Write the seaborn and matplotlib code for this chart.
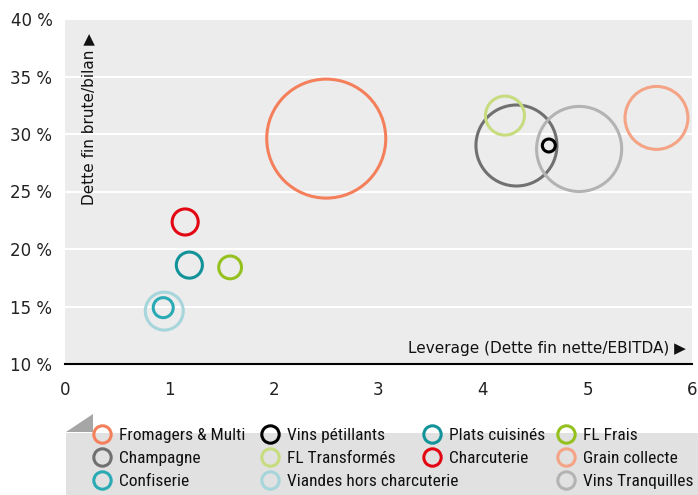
import numpy as np
import pandas as pd
import matplotlib
matplotlib.use("Agg")
import matplotlib.pyplot as plt
import matplotlib.font_manager as fm
from matplotlib.lines import Line2D
from matplotlib.patches import Polygon, Rectangle
import seaborn as sns

# ---------------- data ----------------
secteurs = ["Fromagers & Multi", "Grain collecte", "Champagne", "FL Transformés",
            "Vins pétillants", "Vins Tranquilles", "Charcuterie", "Plats cuisinés",
            "FL Frais", "Confiserie", "Viandes hors charcuterie"]
leverage = [2.50, 5.66, 4.32, 4.21, 4.63, 4.92, 1.15, 1.19, 1.58, 0.94, 0.95]
dette_bilan = [29.6, 31.4, 29.0, 31.6, 29.0, 28.7, 22.35, 18.6, 18.4, 14.9, 14.6]
taille = [354, 99, 164, 38, 4.2, 181, 17, 17, 13, 10, 36]

couleurs = {
    "Fromagers & Multi": "#f47f5b",
    "Grain collecte": "#f5a385",
    "Champagne": "#707070",
    "FL Transformés": "#c6dc7e",
    "Vins pétillants": "#000000",
    "Vins Tranquilles": "#b3b3b3",
    "Charcuterie": "#e30613",
    "Plats cuisinés": "#12939a",
    "FL Frais": "#95c11f",
    "Confiserie": "#2aaab5",
    "Viandes hors charcuterie": "#a6d5dc",
}

legende_colonnes = [
    ["Fromagers & Multi", "Champagne", "Confiserie"],
    ["Vins pétillants", "FL Transformés", "Viandes hors charcuterie"],
    ["Plats cuisinés", "Charcuterie"],
    ["FL Frais", "Grain collecte", "Vins Tranquilles"],
]

y_ticks = [10, 15, 20, 25, 30, 35, 40]
x_ticks = [0, 1, 2, 3, 4, 5, 6]

df = pd.DataFrame({"secteur": secteurs, "leverage": leverage,
                   "dette": dette_bilan, "taille": taille})

# ---------------- style ----------------
sns.set_style("white", {"axes.facecolor": "#ececec"})
plt.rcParams["font.family"] = ["DejaVu Sans"]


def find_condensed():
    cands = []
    for f in fm.fontManager.ttflist:
        nm = f.name
        st = str(f.stretch).lower()
        fn = f.fname.lower()
        cond = ("condensed" in st or "narrow" in nm.lower() or "condensed" in nm.lower()
                or "condensed" in fn or "narrow" in fn)
        if not cond:
            continue
        if "bold" in fn or "italic" in fn or "oblique" in fn or "black" in fn \
                or "light" in fn or "thin" in fn or "medium" in fn or "semibold" in fn:
            continue
        if f.weight not in (400, "normal", "regular", "book"):
            continue
        if "extra" in fn or "semi" in fn:
            continue
        score = 5
        low = nm.lower() + fn
        if "liberation" in low:
            score = 0
        elif "roboto" in low:
            score = 1
        elif "noto" in low:
            score = 2
        elif "open" in low:
            score = 3
        elif "dejavu" in low:
            score = 4
        cands.append((score, f.fname))
    cands.sort()
    return cands[0][1] if cands else None


cond_file = find_condensed()


def leg_prop(size):
    if cond_file:
        return fm.FontProperties(fname=cond_file, size=size)
    return fm.FontProperties(family="DejaVu Sans", stretch="condensed", size=size)


W, H = 698, 495
fig = plt.figure(figsize=(W / 100, H / 100), dpi=100)
ax = fig.add_axes([65 / W, (H - 364) / H, (692 - 65) / W, (364 - 19) / H])
ax.set_facecolor("#ececec")

smax = (1.44 * 59.5) ** 2
sns.scatterplot(data=df, x="leverage", y="dette", hue="secteur", palette=couleurs,
                size="taille", sizes=(0, smax), size_norm=(0, max(taille)),
                legend=False, ax=ax, linewidth=2.2, zorder=3)
coll = ax.collections[0]
fc = coll.get_facecolors()
coll.set_edgecolors(fc)
coll.set_facecolors("none")
coll.set_clip_on(False)

ax.set_xlim(0, 6)
ax.set_ylim(10, 40)
ax.set_xticks(x_ticks)
ax.set_xticklabels([str(v) for v in x_ticks])
ax.set_yticks(y_ticks)
ax.set_yticklabels([f"{v} %" for v in y_ticks])
ax.tick_params(axis="both", length=0, labelsize=12, colors="#222222")
ax.tick_params(axis="x", pad=12)
ax.tick_params(axis="y", pad=9)
ax.set_xlabel("")
ax.set_ylabel("")
ax.yaxis.grid(True, color="white", lw=1.5)
ax.xaxis.grid(False)
ax.set_axisbelow(True)
for s in ["top", "right", "left"]:
    ax.spines[s].set_visible(False)
ax.spines["bottom"].set_color("black")
ax.spines["bottom"].set_linewidth(1.5)

ax.text(0.990, 0.046, "Leverage (Dette fin nette/EBITDA) \u25B6", transform=ax.transAxes,
        ha="right", va="center", fontsize=11, color="#111111")
ax.text(0.037, 0.46, "Dette fin brute/bilan \u25B6", transform=ax.transAxes,
        ha="center", va="bottom", rotation=90, fontsize=11, color="#111111")

# decoration under the axis
fig.patches.append(Rectangle((66 / W, 0), (W - 66) / W, 62 / H, transform=fig.transFigure,
                             facecolor="#e1e1e1", edgecolor="none", zorder=0))
fig.patches.append(Polygon([(66 / W, 1 - 432 / H), (93 / W, 1 - 432 / H), (93 / W, 1 - 414 / H)],
                           closed=True, transform=fig.transFigure,
                           facecolor="#a6a6a6", edgecolor="none", zorder=0))

# legend: four columns
col_x = [102, 270, 432, 566]
fs = 12.5
for cx, noms in zip(col_x, legende_colonnes):
    handles = [Line2D([], [], marker="o", ls="none", markersize=12.5, markerfacecolor="none",
                      markeredgecolor=couleurs[n], markeredgewidth=2.2) for n in noms]
    fig.legend(handles, noms, loc="upper left",
               bbox_to_anchor=((cx - 10) / W, 1 - 428 / H),
               frameon=False, borderpad=0, borderaxespad=0, handlelength=1.15,
               handletextpad=0.4, labelspacing=0.46, labelcolor="#111111",
               prop=leg_prop(fs))

fig.savefig("out.png", dpi=100)
